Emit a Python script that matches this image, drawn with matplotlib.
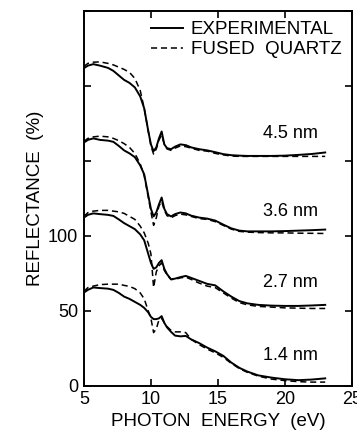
import matplotlib
matplotlib.use('Agg')
import matplotlib.pyplot as plt

plt.rcParams['font.family'] = ['Liberation Sans', 'DejaVu Sans']

# photon energy grid (eV)
energy = [5.0, 5.3, 5.7, 6.2, 6.8, 7.2, 7.6, 8.0, 8.4, 8.8, 9.2, 9.5, 9.8, 10.0,
          10.2, 10.4, 10.6, 10.8, 11.0, 11.2, 11.5, 11.8, 12.2, 12.6, 13.0, 13.6,
          14.2, 14.8, 15.4, 16.0, 16.6, 17.2, 18.0, 19.0, 20.0, 21.0, 22.0, 23.0]

# reflectance (%) before vertical offset
exp_14 = [62.2, 64, 65.6, 65.2, 64.8, 64, 62, 59.5, 58, 56, 54, 52, 49, 46,
          44.5, 44.5, 45, 46.5, 42, 39, 36, 33.5, 33, 33.3, 31, 28.5,
          25.5, 23, 20, 15.5, 12, 9.5, 7, 5.5, 4.4, 3.8, 4.2, 5]
fq_14 = [63, 65.5, 66.5, 67.5, 67.8, 67.8, 67.8, 67, 66.3, 64.8, 62, 58, 50, 45,
         35.5, 38, 44, 45, 42, 39.5, 37, 36, 36, 35.5, 31, 27.5,
         24.5, 22, 19, 15, 11.5, 9, 6.5, 4.5, 3.5, 2.8, 2.5, 2.5]

exp_27 = [62.2, 64, 65, 64.5, 64, 63.3, 61, 58.5, 56.5, 54.5, 51, 47, 38, 32,
          28, 29, 32, 33.8, 28, 24.5, 21, 21.5, 22.5, 23.3, 22, 20,
          18, 17, 13, 9.5, 6.5, 5, 4, 3.5, 3.3, 3.3, 3.6, 4]
fq_27 = [63, 65.5, 66.5, 67, 67, 66.5, 66, 65, 63, 61, 56.5, 52, 45, 38,
         15.6, 26, 30, 32, 27, 24, 21, 21, 22, 22.5, 21, 18.5,
         16.5, 15.5, 12, 8.5, 5.5, 4, 3, 2.5, 2, 1.8, 1.6, 1.6]

exp_36 = [62.2, 64, 65, 64, 63.5, 62.7, 60, 57, 55, 52.5, 47, 41, 27, 18,
          13, 15.6, 21, 25.6, 18, 14.5, 13, 14.5, 15.6, 15, 13.5, 12.2,
          11.5, 10.2, 7.5, 5, 3.5, 3, 3, 3, 3.2, 3.5, 3.8, 4.2]
fq_36 = [63, 65, 66, 66.5, 66, 65, 63.5, 61.5, 59, 55, 48, 40, 26, 16,
         7, 12, 20, 23, 17, 13.5, 12, 13.5, 14.5, 14, 13, 11.5,
         11, 9.5, 7, 4.5, 3, 2.5, 2.2, 2, 2, 1.8, 1.7, 1.6]

exp_45 = [61.8, 63.5, 64.5, 63.5, 62, 60, 57, 54, 52, 49, 43, 35, 20, 11,
          6.5, 9, 15, 19.6, 11, 8.5, 7.8, 9.5, 11, 10.5, 9, 7.8,
          7, 5.8, 4.5, 3.8, 3.5, 3.3, 3.3, 3.3, 3.5, 4, 4.6, 5.6]
fq_45 = [63, 65, 65.8, 66, 65, 64, 62.5, 61, 59, 55, 47, 35, 20, 10,
         4.5, 8, 14, 17, 11, 8, 7, 8.5, 10, 9.5, 8.5, 7,
         6.5, 5, 4, 3.2, 3, 3, 3, 3, 3, 3, 3, 3]

thickness_labels = ['1.4 nm', '2.7 nm', '3.6 nm', '4.5 nm']
offsets = [0, 50, 100, 150]
label_y = [20, 69, 116, 168]

fig = plt.figure(figsize=(3.57, 4.36), dpi=100)
ax = fig.add_axes([0.235, 0.115, 0.751, 0.86])

pairs = [(exp_14, fq_14), (exp_27, fq_27), (exp_36, fq_36), (exp_45, fq_45)]
for i, (exp, fq) in enumerate(pairs):
    off = offsets[i]
    ax.plot(energy, [v + off for v in exp], color='black', lw=1.4,
            label='EXPERIMENTAL' if i == 0 else None)
    ax.plot(energy, [v + off for v in fq], color='black', lw=1.1,
            dashes=(4, 2.5), label='FUSED  QUARTZ' if i == 0 else None)
    ax.text(20.4, label_y[i], thickness_labels[i], fontsize=13,
            ha='center', va='center')

ax.set_xlim(5, 25)
ax.set_ylim(0, 250)
ax.set_xticks([5, 10, 15, 20, 25])
ax.set_yticks([0, 50, 100, 150, 200, 250])
ax.set_yticklabels(['0', '50', '100', '', '', ''])
ax.tick_params(direction='in', top=True, right=True, length=5, width=1.2,
               labelsize=13, pad=4)
for s in ax.spines.values():
    s.set_linewidth(1.4)

ax.set_xlabel('PHOTON  ENERGY  (eV)', fontsize=13.5, labelpad=3)
ax.set_ylabel('REFLECTANCE  (%)', fontsize=13.5, labelpad=3)

ax.legend(loc='upper right', frameon=False, fontsize=13.5, handlelength=1.7,
          handletextpad=0.45, labelspacing=0.15, borderaxespad=0.15)

fig.savefig('out.png', dpi=100)
